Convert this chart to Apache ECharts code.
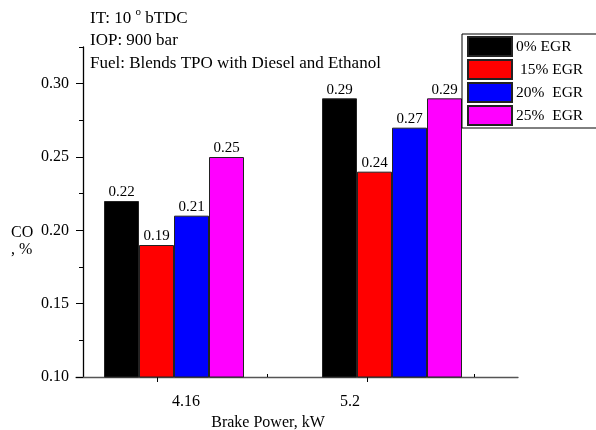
<!DOCTYPE html>
<html><head><meta charset="utf-8">
<script src="https://cdn.jsdelivr.net/npm/echarts@6/dist/echarts.min.js"></script>
<style>html,body{margin:0;padding:0;background:#fff}#c{width:596px;height:430px}</style>
</head><body><div id="c"></div>
<script>
const categories = ['4.16', '5.2'];
const seriesNames = ['0% EGR', ' 15% EGR', '20%  EGR', '25%  EGR'];
const egr0 = [0.22, 0.29];
const egr15 = [0.19, 0.24];
const egr20 = [0.21, 0.27];
const egr25 = [0.25, 0.29];
const yTicks = [0.10, 0.15, 0.20, 0.25, 0.30];
const xLabelValues = [4.16, 5.2];
const colors = ['#000000', '#ff0000', '#0000ff', '#ff00ff'];

const F = 'Liberation Serif, Times New Roman, serif';
const chart = echarts.init(document.getElementById('c'), null, {renderer: 'canvas'});
const values = [egr0, egr15, egr20, egr25];

const option = {
  animation: false,
  backgroundColor: '#fff',
  textStyle: {fontFamily: F},
  title: [
    {left: 90, top: 7, padding: 0, text: 'IT: 10 {s|o} bTDC\nIOP: 900 bar\nFuel: Blends TPO with Diesel and Ethanol',
     textStyle: {fontFamily: F, fontSize: 17, fontWeight: 'normal', color: '#000', lineHeight: 22.5,
       rich: {s: {fontFamily: F, fontSize: 11, verticalAlign: 'top', padding: [0,0,9,0], color: '#000', lineHeight: 22.5}}}},
    {left: 11, top: 224, padding: 0, text: 'CO\n, %',
     textStyle: {fontFamily: F, fontSize: 16, fontWeight: 'normal', color: '#000', lineHeight: 17}}
  ],
  legend: {
    orient: 'vertical', left: 462, top: 34,
    data: seriesNames,
    itemWidth: 44, itemHeight: 19, itemGap: 2,
    borderColor: '#000', borderWidth: 1, backgroundColor: '#fff',
    padding: [2, 40, 2, 5],
    icon: 'rect',
    textStyle: {fontFamily: F, fontSize: 15.5, color: '#000', padding: [0,0,0,-1]}
  },
  grid: [
    {left: 65, right: 95, top: 47, bottom: 53, outerBoundsMode: 'none', containLabel: false},
    {left: 76, right: 78, top: 47, bottom: 53, outerBoundsMode: 'none', containLabel: false},
    {left: 83, right: 78, top: 47, bottom: 53, outerBoundsMode: 'none', containLabel: false}
  ],
  xAxis: [
    {type: 'category', gridIndex: 0, data: categories, show: false},
    {type: 'value', gridIndex: 1, min: 3.4625, max: 6.265,
     name: 'Brake Power, kW', nameLocation: 'middle', nameGap: 37,
     nameTextStyle: {fontFamily: F, fontSize: 16, color: '#000', padding: [0, 0, 0, -58]},
     splitLine: {show: false},
     axisLine: {show: true, lineStyle: {color: '#555', width: 1.3}},
     axisTick: {show: true, length: 5, lineStyle: {color: '#000'}, customValues: [3.98, 5.31]},
     axisLabel: {show: true, customValues: xLabelValues, fontFamily: F, fontSize: 16, color: '#000', margin: 17,
       formatter: v => categories[xLabelValues.indexOf(v)] ?? ''}},
    {type: 'value', gridIndex: 2, min: 3.4625, max: 6.265, splitLine: {show: false},
     axisLine: {show: false}, axisLabel: {show: false},
     axisTick: {show: true, inside: true, length: 3, lineStyle: {color: '#000'}, customValues: [4.65, 5.98]}}
  ],
  yAxis: [
    {type: 'value', gridIndex: 0, min: 0.1, max: 0.325, show: false},
    {type: 'value', gridIndex: 1, min: 0.1, max: 0.325, show: false},
    {type: 'value', gridIndex: 2, min: 0.1, max: 0.325, interval: 0.05,
     splitLine: {show: false},
     axisLine: {show: true, lineStyle: {color: '#000', width: 1.3}},
     axisTick: {show: true, length: 7, lineStyle: {color: '#000'}, customValues: yTicks},
     minorTick: {show: true, splitNumber: 2, length: 4, lineStyle: {color: '#000'}},
     axisLabel: {fontFamily: F, fontSize: 16, color: '#000', margin: 14, customValues: yTicks,
       formatter: v => v.toFixed(2)}}
  ],
  series: seriesNames.map((n, i) => ({
    name: n, type: 'bar', xAxisIndex: 0, yAxisIndex: 0,
    data: values[i], barWidth: 35, barGap: '0%',
    itemStyle: {color: colors[i], borderColor: '#222', borderWidth: 1},
    label: {show: true, position: 'top', distance: 1, fontFamily: F, fontSize: 15, color: '#000',
      formatter: p => p.value.toFixed(2)}
  }))
};
chart.setOption(option);
</script></body></html>
